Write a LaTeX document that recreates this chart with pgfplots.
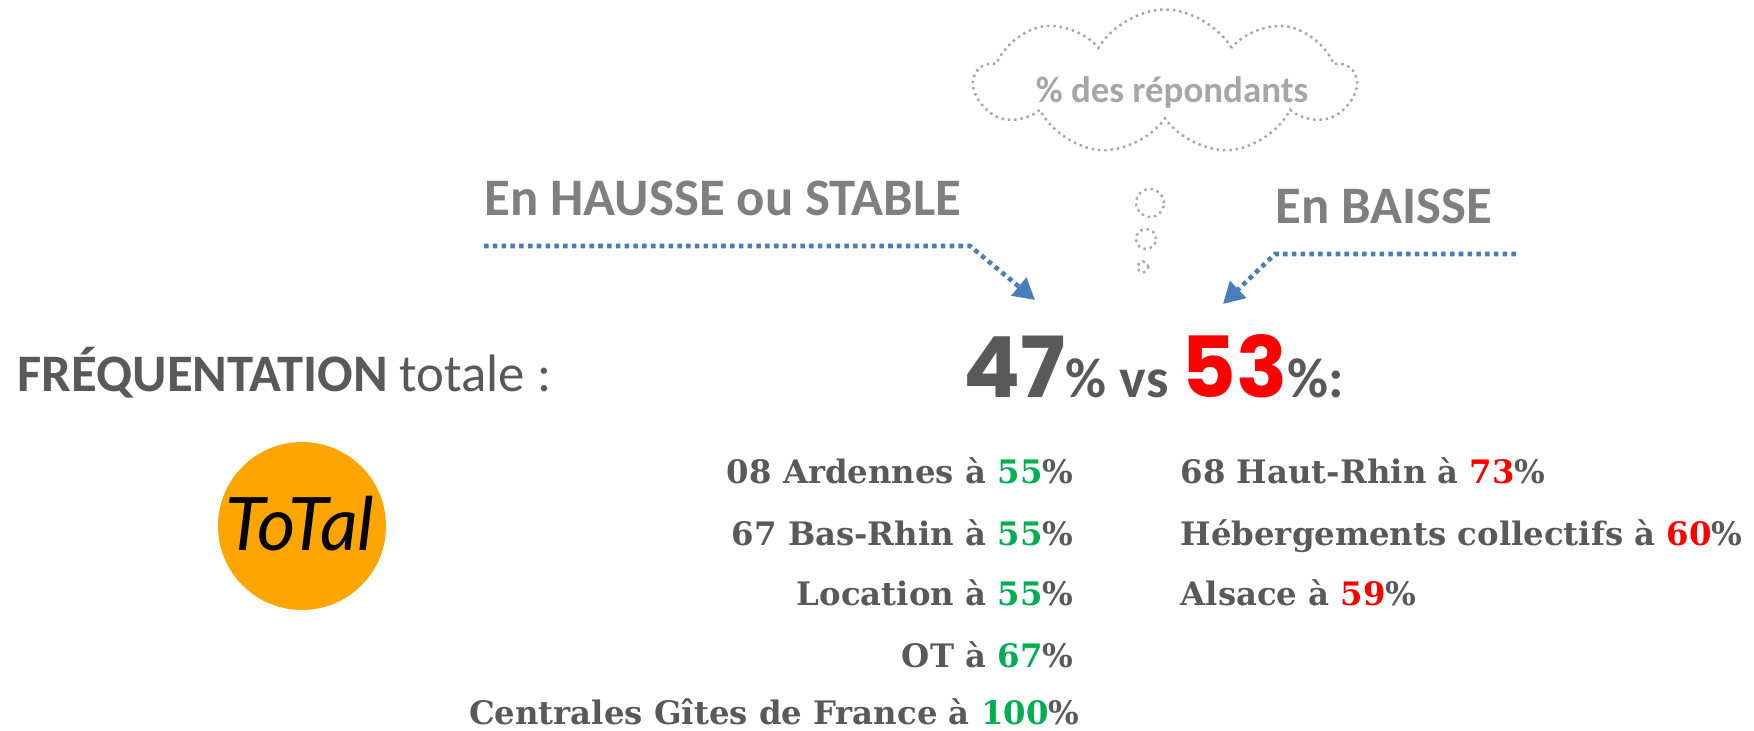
\documentclass[border=0pt]{standalone}
\usepackage{pgfplots}
\pgfplotsset{compat=1.18}
\usepackage{fontspec}
\setmainfont{Carlito}
\newfontfamily\slab{DejaVu Serif}
\newfontfamily\pop{Poppins}
\newfontfamily\hand{Lato}
\usetikzlibrary{arrows.meta,shapes.symbols}
\definecolor{dg}{HTML}{595959}
\definecolor{hg}{HTML}{7F7F7F}
\definecolor{cg}{HTML}{A6A6A6}
\definecolor{gr}{HTML}{00B050}
\definecolor{rd}{HTML}{FF0000}
\definecolor{ab}{HTML}{4A7EBB}
\definecolor{og}{HTML}{FFA500}
\newcommand{\lst}{\slab\bfseries\fontsize{9.2}{11}\selectfont\color{dg}}
\begin{document}
\begin{tikzpicture}
\begin{axis}[width=17.54cm,height=7.31cm,scale only axis,hide axis,
  xmin=0,xmax=1754,ymin=0,ymax=731,y dir=reverse,clip=false]
\addplot[draw=none] coordinates {(0,0) (1754,731)};
% cloud
\node[cloud, cloud puffs=9, cloud puff arc=120, aspect=2.6, draw=cg, line width=0.7pt,
  dash pattern=on 0.7pt off 1.1pt, minimum width=3.80cm, minimum height=1.45cm, inner sep=0] at (1165,82) {};
\node[text=cg, font=\bfseries\fontsize{10.5}{12}\selectfont] at (1172,92) {\% des répondants};
\draw[cg, line width=0.7pt, dash pattern=on 0.7pt off 1.1pt] (1150,203) circle[radius=0.14cm];
\draw[cg, line width=0.7pt, dash pattern=on 0.7pt off 1.1pt] (1146,239) circle[radius=0.10cm];
\draw[cg, line width=0.7pt, dash pattern=on 0.7pt off 1.1pt] (1143,267) circle[radius=0.055cm];
% headers
\node[anchor=base west, text=hg, inner sep=0, font=\bfseries\fontsize{15}{18}\selectfont] at (484,216) {En HAUSSE ou STABLE};
\node[anchor=base west, text=hg, inner sep=0, font=\bfseries\fontsize{15}{18}\selectfont] at (1275,224) {En BAISSE};
% arrows
\draw[ab, line width=1.3pt, dash pattern=on 1.3pt off 1.2pt, -{Triangle[length=6pt,width=6.5pt]}]
  (484,246) -- (970,246) -- (1035,300);
\draw[ab, line width=1.3pt, dash pattern=on 1.3pt off 1.2pt, -{Triangle[length=6pt,width=6.5pt]}]
  (1516,254) -- (1275,254) -- (1223,304);
% main line
\node[anchor=base west, text=dg, inner sep=0, font=\fontsize{15}{18}\selectfont] at (17,392) {\textbf{FRÉQUENTATION} totale :};
\node[anchor=base west, inner sep=0] at (963,398) {{\pop\bfseries\fontsize{24}{28}\selectfont\color{dg}47}{\bfseries\fontsize{16}{19}\selectfont\color{dg}\% vs }{\pop\bfseries\fontsize{24}{28}\selectfont\color{rd}53}{\bfseries\fontsize{16}{19}\selectfont\color{dg}\%:}};
% logo
\node[circle, fill=og, minimum size=1.68cm, inner sep=0] at (302,526) {};
\node[text=black, font=\hand\itshape\fontsize{21}{24}\selectfont] at (300,524) {ToTal};
% left list
\node[anchor=base east, inner sep=0] at (1074,484) {\lst 08 Ardennes à {\color{gr}55}\%};
\node[anchor=base east, inner sep=0] at (1074,546) {\lst 67 Bas-Rhin à {\color{gr}55}\%};
\node[anchor=base east, inner sep=0] at (1074,606) {\lst Location à {\color{gr}55}\%};
\node[anchor=base east, inner sep=0] at (1074,668) {\lst OT à {\color{gr}67}\%};
\node[anchor=base east, inner sep=0] at (1080,725) {\lst Centrales Gîtes de France à {\color{gr}100}\%};
% right list
\node[anchor=base west, inner sep=0] at (1180,484) {\lst 68 Haut-Rhin à {\color{rd}73}\%};
\node[anchor=base west, inner sep=0] at (1180,546) {\lst Hébergements collectifs à {\color{rd}60}\%};
\node[anchor=base west, inner sep=0] at (1180,606) {\lst Alsace à {\color{rd}59}\%};
\end{axis}
\end{tikzpicture}
\end{document}
